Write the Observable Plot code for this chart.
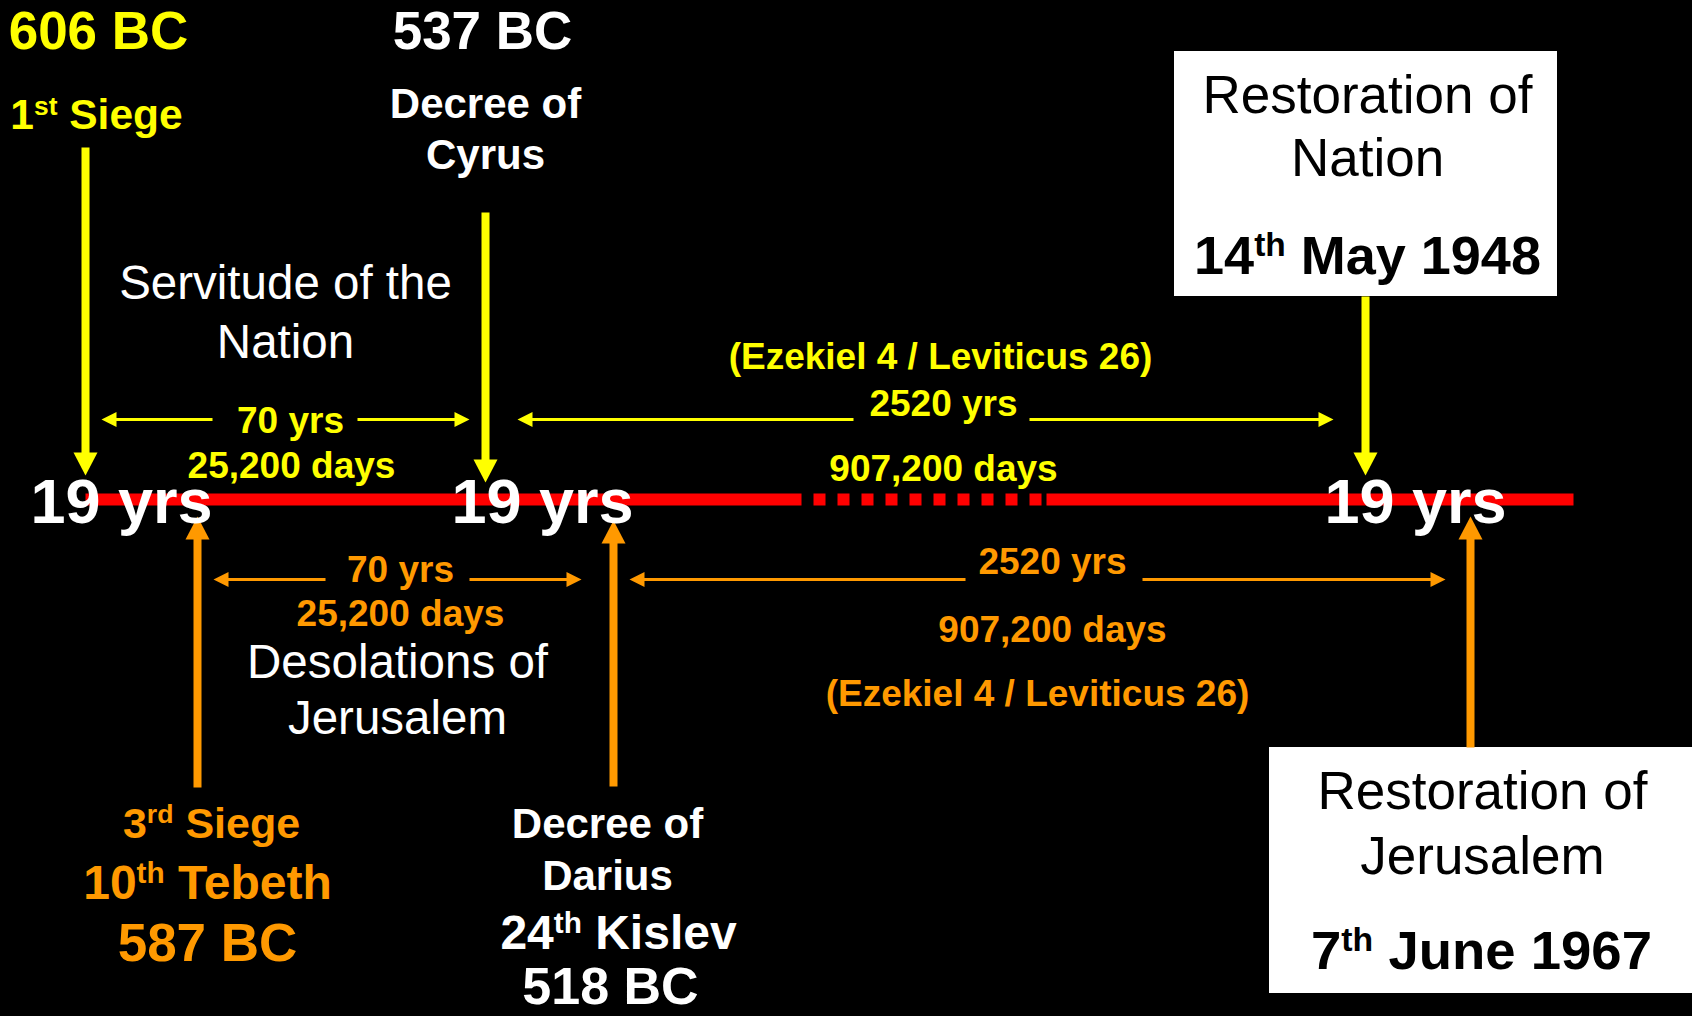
<!DOCTYPE html>
<html>
<head>
<meta charset="utf-8">
<script src="https://cdn.jsdelivr.net/npm/d3@7"></script>
<script src="https://cdn.jsdelivr.net/npm/@observablehq/plot@0.6"></script>
<style>
  html, body { margin: 0; padding: 0; background: #000; overflow: hidden; }
</style>
</head>
<body>
<div id="chart"></div>
<script>
// ---------------- content ----------------
const cycleLabel = "19 yrs";
const nationDates = ["606 BC", "537 BC"];
const nationEvents = ["1{st} Siege", "Decree of\nCyrus"];
const jerusalemEvents = ["3{rd} Siege", "Decree of\nDarius"];
const jerusalemDays = ["10{th} Tebeth", "24{th} Kislev"];
const jerusalemDates = ["587 BC", "518 BC"];
const periodYears = ["70 yrs", "2520 yrs"];
const periodDays = ["25,200 days", "907,200 days"];
const periodSource = "(Ezekiel 4 / Leviticus 26)";
const periodNames = ["Servitude of the\nNation", "Desolations of\nJerusalem"];
const restorationTitles = ["Restoration of\nNation", "Restoration of\nJerusalem"];
const restorationDates = ["14{th} May 1948", "7{th} June 1967"];

// ---------------- layout (diagram units = pixels) ----------------
const W = 1692, H = 1016;
const YELLOW = "#ffff00", ORANGE = "#ff9900", RED = "#ff0000", WHITE = "#ffffff", BLACK = "#000000";
const timelineY = 499;
const nationX = [85, 485, 1365];        // yellow down arrows
const jerusalemX = [197, 613, 1470];    // orange up arrows
const cycleX = [121, 542, 1415];
const nationSpanY = 419, jerusalemSpanY = 579;

// ---------------- marks data ----------------
const timeline = [
  {x1: 85, x2: 801},
  {x1: 1046, x2: 1573}
];
const timelineGap = [{x1: 813, x2: 1041}];

const boxes = [
  {x1: 1174, x2: 1557, y1: 51, y2: 296},
  {x1: 1269, x2: 1692, y1: 747, y2: 993}
];

// vertical connectors: from -> tip
const connectors = [
  {x: nationX[0], from: 147, tip: 475, color: YELLOW, dir: "down"},
  {x: nationX[1], from: 212, tip: 482, color: YELLOW, dir: "down"},
  {x: nationX[2], from: 296, tip: 475, color: YELLOW, dir: "down"},
  {x: jerusalemX[0], from: 787, tip: 516, color: ORANGE, dir: "up"},
  {x: jerusalemX[1], from: 786, tip: 520, color: ORANGE, dir: "up"},
  {x: jerusalemX[2], from: 747, tip: 516, color: ORANGE, dir: "up"}
];

// horizontal span arrows: from -> tip
const spans = [
  {y: nationSpanY, from: 212, tip: 101, color: YELLOW, dir: "left"},
  {y: nationSpanY, from: 357, tip: 469, color: YELLOW, dir: "right"},
  {y: nationSpanY, from: 853, tip: 517, color: YELLOW, dir: "left"},
  {y: nationSpanY, from: 1029, tip: 1333, color: YELLOW, dir: "right"},
  {y: jerusalemSpanY, from: 325, tip: 213, color: ORANGE, dir: "left"},
  {y: jerusalemSpanY, from: 469, tip: 581, color: ORANGE, dir: "right"},
  {y: jerusalemSpanY, from: 965, tip: 629, color: ORANGE, dir: "left"},
  {y: jerusalemSpanY, from: 1142, tip: 1445, color: ORANGE, dir: "right"}
];

// text placements
const texts = [];
function put(text, x, ys, size, fill, group) {
  const lines = text.split("\n");
  const yy = Array.isArray(ys) ? ys : [ys];
  lines.forEach((t, i) => texts.push({text: t, x, y: yy[i], size, fill, group}));
}
put(nationDates[0], 98, 48, 53, YELLOW, "bold");
put(nationEvents[0], 96, 128, 42.5, YELLOW, "bold");
put(nationDates[1], 482, 48, 53, WHITE, "bold");
put(nationEvents[1], 485, [117, 168], 42, WHITE, "bold");
put(periodNames[0], 285, [298, 357], 47.5, WHITE, "regular");
put(periodYears[0], 290, 432, 37, YELLOW, "bold");
put(periodDays[0], 291, 477, 37, YELLOW, "bold");
put(periodSource, 940, 368, 37, YELLOW, "bold");
put(periodYears[1], 943, 415, 37, YELLOW, "bold");
put(periodDays[1], 943, 480, 37, YELLOW, "bold");

put(periodYears[0], 400, 581, 37, ORANGE, "bold");
put(periodDays[0], 400, 625, 37, ORANGE, "bold");
put(periodNames[1], 397, [677, 733], 47.5, WHITE, "regular");
put(periodYears[1], 1052, 573, 37, ORANGE, "bold");
put(periodDays[1], 1052, 641, 37, ORANGE, "bold");
put(periodSource, 1037, 705, 37, ORANGE, "bold");

put(jerusalemEvents[0], 211, 837, 43, ORANGE, "bold");
put(jerusalemDays[0], 207, 898, 48, ORANGE, "bold");
put(jerusalemDates[0], 207, 960, 53, ORANGE, "bold");
put(jerusalemEvents[1], 607, [837, 889], 42, WHITE, "bold");
put(jerusalemDays[1], 618, 948, 48, WHITE, "bold");
put(jerusalemDates[1], 610, 1003, 52, WHITE, "bold");

cycleX.forEach(x => put(cycleLabel, x, 522, 63, WHITE, "cycle"));

put(restorationTitles[0], 1367, [112, 175], 53, BLACK, "boxRegular");
put(restorationDates[0], 1367, 273, 54, BLACK, "boxBold");
put(restorationTitles[1], 1482, [808, 873], 53, BLACK, "boxRegular");
put(restorationDates[1], 1481, 968, 54.5, BLACK, "boxBold");

// ---------------- arrowhead symbols (tip at origin) ----------------
function head(dir, L, w) {
  return {
    draw(ctx) {
      if (dir === "down") { ctx.moveTo(0, 0); ctx.lineTo(-w, -L); ctx.lineTo(w, -L); }
      if (dir === "up")   { ctx.moveTo(0, 0); ctx.lineTo(-w, L); ctx.lineTo(w, L); }
      if (dir === "left") { ctx.moveTo(0, 0); ctx.lineTo(L, -w); ctx.lineTo(L, w); }
      if (dir === "right"){ ctx.moveTo(0, 0); ctx.lineTo(-L, -w); ctx.lineTo(-L, w); }
      ctx.closePath();
    }
  };
}
const BIG_L = 23, BIG_W = 12, SMALL_L = 15, SMALL_W = 7.5;

const headMarks = [];
["down", "up"].forEach(dir => {
  headMarks.push(Plot.dot(connectors.filter(d => d.dir === dir), {
    x: "x", y: "tip", r: 5, symbol: head(dir, BIG_L, BIG_W), fill: "color", stroke: "none"
  }));
});
["left", "right"].forEach(dir => {
  headMarks.push(Plot.dot(spans.filter(d => d.dir === dir), {
    x: "tip", y: "y", r: 5, symbol: head(dir, SMALL_L, SMALL_W), fill: "color", stroke: "none"
  }));
});

const FONT = "'Liberation Sans', Arial, Helvetica, sans-serif";
function textMark(group, weight, label) {
  return Plot.text(texts.filter(d => d.group === group), {
    x: "x", y: "y", text: "text", fill: "fill", fontSize: d => d.size,
    fontWeight: weight, fontFamily: FONT, lineAnchor: "bottom", textAnchor: "middle",
    ariaLabel: label
  });
}

const chart = Plot.plot({
  width: W, height: H, margin: 0,
  x: {domain: [0, W], range: [0, W], axis: null},
  y: {domain: [0, H], range: [0, H], axis: null},
  color: {type: "identity"},
  style: {background: "#000", fontFamily: FONT, overflow: "visible"},
  marks: [
    Plot.rect(boxes, {x1: "x1", x2: "x2", y1: "y1", y2: "y2", fill: WHITE}),
    Plot.link(timeline, {x1: "x1", x2: "x2", y1: () => timelineY, y2: () => timelineY,
      stroke: RED, strokeWidth: 12, strokeLinecap: "butt"}),
    Plot.link(timelineGap, {x1: "x1", x2: "x2", y1: () => timelineY, y2: () => timelineY,
      stroke: RED, strokeWidth: 12, strokeLinecap: "butt", strokeDasharray: "12,12"}),
    Plot.link(connectors, {x1: "x", x2: "x", y1: "from",
      y2: d => d.dir === "down" ? d.tip - BIG_L + 2 : d.tip + BIG_L - 2,
      stroke: "color", strokeWidth: 8, strokeLinecap: "butt"}),
    Plot.link(spans, {x1: "from", y1: "y", y2: "y",
      x2: d => d.dir === "left" ? d.tip + SMALL_L - 2 : d.tip - SMALL_L + 2,
      stroke: "color", strokeWidth: 3, strokeLinecap: "butt"}),
    ...headMarks,
    textMark("regular", "normal", "regular-text"),
    textMark("bold", "bold", "bold-text"),
    textMark("cycle", "bold", "cycle-text"),
    textMark("boxRegular", "normal", "box-text"),
    textMark("boxBold", "bold", "box-text-bold")
  ]
});

document.getElementById("chart").appendChild(chart);

// superscripts: "1{st}" -> 1 + raised small "st"
d3.select(chart).selectAll("text").each(function () {
  const s = this.textContent;
  const m = s.match(/^(.*?)\{(.*?)\}(.*)$/);
  if (!m) return;
  this.textContent = "";
  const add = (t, attrs) => {
    const ts = document.createElementNS("http://www.w3.org/2000/svg", "tspan");
    ts.textContent = t;
    for (const k in attrs) ts.setAttribute(k, attrs[k]);
    this.appendChild(ts);
  };
  add(m[1], {});
  add(m[2], {"font-size": "62%", dy: "-0.53em"});
  add(m[3], {dy: "0.33em"});
});

// drop shadows
d3.select(chart).selectAll('g[aria-label="cycle-text"] text')
  .style("filter", "drop-shadow(3px 3px 1.5px rgba(0,0,0,0.95))");
d3.select(chart).selectAll('g[aria-label^="box-text"] text')
  .style("filter", "drop-shadow(2px 2px 2px rgba(0,0,0,0.4))");
</script>
</body>
</html>
